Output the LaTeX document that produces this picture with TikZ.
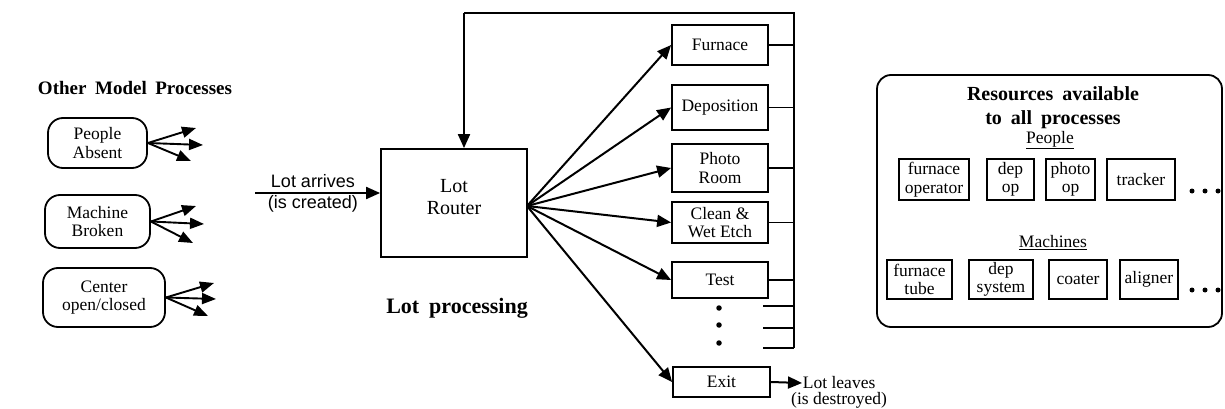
\documentclass[tikz,border=0pt]{standalone}
\usepackage{fontspec}
\setmainfont{Liberation Serif}
\newfontfamily\helv{Liberation Sans}
\newfontfamily\headfont[WordSpace=1.8]{Liberation Serif}
\usetikzlibrary{arrows.meta}

\begin{document}
\begin{tikzpicture}[x=1pt,y=-1pt, line width=1.8pt,
  body/.style={font=\fontsize{17.5}{18.5}\selectfont, align=center},
  procbox/.style={draw, body, inner sep=0pt, minimum width=96pt},
  rbox/.style={draw, body, rounded corners=15pt, inner sep=0pt},
  resbox/.style={draw, body, inner sep=0pt, line width=1.6pt},
  flow/.style={-{Triangle[length=14pt,width=12pt]}, line width=2pt},
  fan/.style={-{Triangle[length=14pt,width=11pt]}, line width=1.9pt},
  heading/.style={font=\headfont\bfseries\fontsize{19}{24}\selectfont, align=center},
  bus/.style={line width=1.6pt},
  dot/.style={circle, fill, inner sep=0pt, minimum size=5.5pt},
]
\useasboundingbox (0,0) rectangle (1225,409);

% ---------- other model processes ----------
\node[heading] (othertitle) at (135,88) {Other Model Processes};
\node[rbox, minimum width=99pt, minimum height=50pt] (pa) at (97.5,143) {People\\Absent};
\node[rbox, minimum width=105pt, minimum height=53pt] (mb) at (97.5,221.5) {Machine\\Broken};
\node[rbox, minimum width=122pt, minimum height=59pt] (co) at (104,297.5) {Center\\open/closed};

\coordinate (pa1) at (196,128); \coordinate (pa2) at (203,145); \coordinate (pa3) at (191,161);
\coordinate (mb1) at (196,206); \coordinate (mb2) at (204,224); \coordinate (mb3) at (193,243);
\coordinate (co1) at (214,283); \coordinate (co2) at (216,299); \coordinate (co3) at (208,316);
\foreach \b in {pa,mb,co}{
  \foreach \i in {1,2,3}{
    \draw[fan] (\b.east) -- (\b\i);
  }
}

% ---------- lot router ----------
\node[draw, minimum width=146pt, minimum height=108pt, inner sep=0pt] (router) at (454,203) {};
\node[font=\fontsize{20}{22}\selectfont, align=center] (routerlabel) at ([yshift=6pt]router.center) {Lot\\Router};
\node[heading, font=\headfont\bfseries\fontsize{22}{24}\selectfont] (proctitle) at (457,308) {Lot processing};

\coordinate (lotin) at (255,193);
\draw[flow] (lotin) -- (lotin -| router.west);
\node[font=\helv\fontsize{18}{20}\selectfont, anchor=base] (arrives) at (313,187) {Lot arrives};
\node[font=\helv\fontsize{18}{20}\selectfont, anchor=base] (created) at (313,208) {(is created)};

% ---------- process areas ----------
\node[procbox, minimum height=40pt] (furnace) at (720,45) {Furnace};
\node[procbox, minimum height=45pt] (dep) at (720,107.5) {Deposition};
\node[procbox, minimum height=48pt] (photo) at (720,168) {Photo\\Room};
\node[procbox, minimum height=41pt] (clean) at (720,222.5) {Clean \&\\Wet Etch};
\node[procbox, minimum height=36pt] (test) at (720,280) {Test};
\node[procbox, minimum width=97pt, minimum height=30pt] (exit) at (721.5,382) {Exit};

\node[dot] (d1) at (719,308) {};
\node[dot] (d2) at (719,325) {};
\node[dot] (d3) at (719,343) {};

\coordinate (fanout) at (527,206);
\foreach \p in {furnace,dep,photo,clean,test,exit}{
  \draw[flow] (fanout) -- (\p.west);
}

% return bus back to the router
\coordinate (bustop) at (794,13);
\coordinate (busbot) at (794,348);
\coordinate (fbcorner) at (464,13);
\draw[bus] (busbot) -- (bustop) -- (fbcorner);
\draw[flow] (fbcorner) -- (fbcorner |- router.north);
\foreach \p in {furnace,dep,photo,clean,test}{
  \draw[bus] (\p.east) -- (\p.east -| bustop);
}
\coordinate (s1) at (763,306);
\coordinate (s2) at (763,328);
\coordinate (s3) at (763,348);
\foreach \s in {s1,s2,s3}{
  \draw[bus] (\s) -- (\s -| bustop);
}

% exit
\coordinate (leave) at (802,383);
\draw[flow] (exit.east) -- (leave);
\node[body, anchor=west, inner sep=0pt] (leaves) at (leave) {Lot leaves};
\node[body, anchor=north, inner sep=0pt, yshift=-1pt] (destroyed) at (leaves.south) {(is destroyed)};

% ---------- shared resources ----------
\node[draw, rounded corners=14pt, minimum width=345pt, minimum height=252pt, inner sep=0pt] (res) at (1049.5,201) {};
\node[heading, font=\headfont\bfseries\fontsize{20}{24}\selectfont] (restitle) at (1053,108) {Resources available\\to all processes};
\node[body] (people) at (1050,140) {\underline{People}};
\node[body] (machines) at (1053,243) {\underline{Machines}};

\node[resbox, minimum width=70pt, minimum height=41pt] (fop) at (934,179.5) {furnace\\operator};
\node[resbox, minimum width=47pt, minimum height=41pt] (depop) at (1010.5,179.5) {dep\\op};
\node[resbox, minimum width=49pt, minimum height=41pt] (photoop) at (1070.5,179.5) {photo\\op};
\node[resbox, minimum width=68pt, minimum height=41pt] (tracker) at (1141,179.5) {tracker};
\node[dot, minimum size=5pt] (pd1) at (1192,191) {};
\node[dot, minimum size=5pt] (pd2) at (1205,191) {};
\node[dot, minimum size=5pt] (pd3) at (1218,191) {};

\node[resbox, minimum width=65pt, minimum height=39pt] (ftube) at (919.5,279.5) {furnace\\tube};
\node[resbox, minimum width=64pt, minimum height=39pt] (depsys) at (1001,279.5) {dep\\system};
\node[resbox, minimum width=58pt, minimum height=39pt] (coater) at (1078,279.5) {coater};
\node[resbox, minimum width=58pt, minimum height=39pt] (aligner) at (1149,279.5) {aligner};
\node[dot, minimum size=5pt] (md1) at (1192,290) {};
\node[dot, minimum size=5pt] (md2) at (1205,290) {};
\node[dot, minimum size=5pt] (md3) at (1218,290) {};
\end{tikzpicture}
\end{document}
